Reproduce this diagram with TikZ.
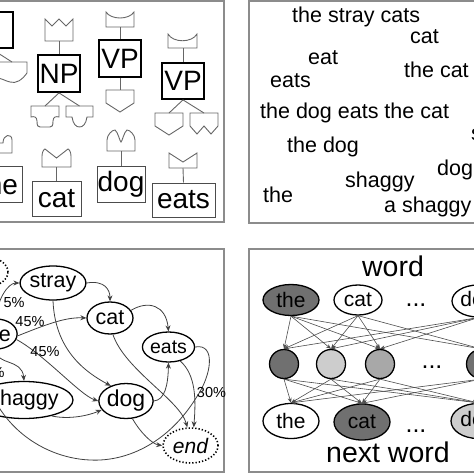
\documentclass[tikz,border=0pt]{standalone}
\usepackage{fontspec}
\setmainfont{Liberation Sans}
\usepackage{xcolor}
\usepackage{tikz}
\usetikzlibrary{arrows.meta,positioning,shapes,calc}

\definecolor{framegray}{HTML}{8C8C8C}
\definecolor{darkunit}{HTML}{707070}
\definecolor{midunit}{HTML}{A8A8A8}
\definecolor{lightunit}{HTML}{CDCDCD}

\tikzset{
  panel/.style={draw=framegray, line width=1.5pt},
  tagbox/.style={draw=black, line width=1.8pt, inner sep=0pt, font=\fontsize{28}{30}\selectfont},
  wordbox/.style={draw=black!70, line width=1pt, inner sep=0pt, font=\fontsize{28}{30}\selectfont},
  piece/.style={draw=black!60, line width=0.9pt},
  loose/.style={anchor=base west, inner sep=0pt, font=\fontsize{21.5}{23}\selectfont},
  state/.style={ellipse, draw=black, line width=1.3pt, inner sep=0pt, font=\fontsize{21.5}{23}\selectfont},
  endstate/.style={state, dotted, line width=1.6pt},
  trans/.style={draw=black!75, line width=0.8pt, -{Stealth[length=6pt,width=5pt]}},
  prob/.style={inner sep=0pt, font=\fontsize{14.5}{16}\selectfont},
  token/.style={ellipse, draw=black, line width=1.3pt, inner sep=0pt, font=\fontsize{21}{23}\selectfont},
  unit/.style={circle, draw=black, line width=1.3pt, minimum size=29pt, inner sep=0pt},
  link/.style={draw=black!70, line width=0.6pt, -{Stealth[length=5pt,width=4pt]}},
  dots/.style={anchor=base, inner sep=0pt, font=\fontsize{25}{27}\selectfont},
  caption/.style={anchor=base, inner sep=0pt, font=\fontsize{28.5}{30}\selectfont}
}

\begin{document}
\begin{tikzpicture}[x=1pt, y=-1pt]
\useasboundingbox (0,0) rectangle (474,474);

% Panel frames
\draw[panel] (-5,0.8) rectangle (224,222);
\draw[panel] (249,0.8) rectangle (480,223);
\draw[panel] (-5,249) rectangle (224,472);
\draw[panel] (249,249) rectangle (480,472);

% ---- Top left: construction pieces ----
\node[tagbox, minimum width=43pt, minimum height=36pt] (sbox) at (-8.5,30) {};
\coordinate (sdown) at (12,62);
\draw[piece] (sbox.south) -- (sdown);
\draw[piece] (-4,62) -- (27,62) -- (27,73) .. controls (22,80) and (16,84) .. (10,82) .. controls (5,81) and (2,78) .. (-4,78) -- cycle;

% NP
\node[tagbox, minimum width=42pt, minimum height=37pt] (np) at (59,73.5) {NP};
\coordinate (npup) at (59,41);
\coordinate (npleft) at (45,106);
\coordinate (npright) at (79.5,106);
\draw[piece] (45,41) -- (45,19) -- (52,26) -- (59,19) -- (66,26) -- (73,19) -- (73,41) -- cycle;
\draw[piece] (np.north) -- (npup);
\draw[piece] (np.south) -- (npleft);
\draw[piece] (np.south) -- (npright);
\draw[piece] (31,106) -- (59,106) -- (59,117) .. controls (56,116) and (53,117) .. (53,121) .. controls (53,126) and (52,127) .. (50,127) -- (40,127) .. controls (38,127) and (37,126) .. (37,121) .. controls (37,117) and (34,116) .. (31,117) -- cycle;
\draw[piece] (66,106) -- (93,106) -- (93,117) -- (87,117) .. controls (86,124) and (83,127) .. (79.5,127) .. controls (76,127) and (73,124) .. (72,117) -- (66,117) -- cycle;

% VP, one child
\node[tagbox, minimum width=42pt, minimum height=37pt] (vpa) at (120,58.5) {VP};
\coordinate (vpaup) at (120,27);
\coordinate (vpadown) at (120,90);
\draw[piece] (106,27) -- (106,12) .. controls (111,20) and (129,20) .. (134,12) -- (134,27) -- cycle;
\draw[piece] (vpa.north) -- (vpaup);
\draw[piece] (vpa.south) -- (vpadown);
\draw[piece] (106,90) -- (134,90) -- (134,103) -- (120,112) -- (106,103) -- cycle;

% VP, two children
\node[tagbox, minimum width=42pt, minimum height=36pt] (vpb) at (183,81) {VP};
\coordinate (vpbup) at (183,48);
\coordinate (vpbleft) at (169,113);
\coordinate (vpbright) at (204,113);
\draw[piece] (168,48) -- (168,34) .. controls (173,43) and (192,43) .. (197,34) -- (197,48) -- cycle;
\draw[piece] (vpb.north) -- (vpbup);
\draw[piece] (vpb.south) -- (vpbleft);
\draw[piece] (vpb.south) -- (vpbright);
\draw[piece] (155,113) -- (183,113) -- (183,126) -- (169,135) -- (155,126) -- cycle;
\draw[piece] (190,113) -- (218,113) -- (218,126) -- (211,134) -- (204,126) -- (197,134) -- (190,126) -- cycle;

% word boxes
\node[wordbox, minimum width=47pt, minimum height=36pt] (wthe) at (-1.5,184) {the};
\node[wordbox, minimum width=49pt, minimum height=35pt] (wcat) at (56.5,198.5) {cat};
\node[wordbox, minimum width=48pt, minimum height=36pt] (wdog) at (121,184) {dog};
\node[wordbox, minimum width=63pt, minimum height=34pt] (weats) at (183.5,200) {eats};
\coordinate (catplug) at (56.5,167);
\coordinate (dogplug) at (121,151);
\coordinate (eatsplug) at (183,168);
\draw[piece] (-16,153) -- (-16,143) -- (3,143) .. controls (3,134) and (12,133) .. (12,140) -- (12,153) -- cycle;
\draw[piece] (42,167) -- (42,156) .. controls (42,152) and (44,149) .. (45,149) -- (56.5,158) -- (68,149) .. controls (69,149) and (71,152) .. (71,156) -- (71,167) -- cycle;
\draw[piece] (107,151) -- (107,140) .. controls (107,135) and (112,130) .. (115,130) .. controls (118,132) and (120,142) .. (121,142) .. controls (122,142) and (124,132) .. (127,130) .. controls (130,130) and (135,135) .. (135,140) -- (135,151) -- cycle;
\draw[piece] (169,168) -- (169,153) -- (183,162) -- (197,153) -- (197,168) -- cycle;
\draw[piece] (wcat.north) -- (catplug);
\draw[piece] (wdog.north) -- (dogplug);
\draw[piece] (weats.north) -- (eatsplug);

% ---- Top right: loose phrases ----
\node[loose] (ph1) at (292,22) {the stray cats};
\node[loose] (ph2) at (410,43) {cat};
\node[loose] (ph3) at (308,64) {eat};
\node[loose] (ph4) at (270,87) {eats};
\node[loose] (ph5) at (404,77) {the cat};
\node[loose] (ph6) at (260,118) {the dog eats the cat};
\node[loose] (ph7) at (471,140) {stray};
\node[loose] (ph8) at (287,152) {the dog};
\node[loose] (ph9) at (437,175) {dog};
\node[loose] (ph10) at (345,187) {shaggy};
\node[loose] (ph11) at (263,202) {the};
\node[loose] (ph12) at (384,212) {a shaggy};

% ---- Bottom left: word chain ----
\node[endstate, minimum width=44pt, minimum height=30pt] (start) at (-14,272) {};
\node[state, minimum width=60pt, minimum height=34pt] (stray) at (53,283) {stray};
\node[state, minimum width=46pt, minimum height=32pt] (cat) at (110,318) {cat};
\node[state, minimum width=42pt, minimum height=30pt] (the) at (-4,334) {the};
\node[state, minimum width=47pt, minimum height=30pt, font=\fontsize{19.5}{21}\selectfont] (eats) at (168.5,347) {eats};
\node[state, minimum width=78pt, minimum height=37pt] (shaggy) at (24,400) {shaggy};
\node[state, minimum width=47pt, minimum height=35pt, font=\fontsize{23}{25}\selectfont] (dog) at (126,401) {dog};
\node[endstate, minimum width=55pt, minimum height=35pt, font=\fontsize{21}{23}\selectfont\itshape] (end) at (190.5,445.5) {end};

\draw[trans] (the.north) .. controls (-3,300) and (8,283) .. (stray.west);
\draw[trans] (the.-5) .. controls (45,325) and (65,317) .. (cat.west);
\draw[trans] (the.-15) .. controls (45,355) and (80,395) .. (dog.west);
\draw[trans] (the.south) .. controls (-4,366) and (22,358) .. (shaggy.north);
\draw[trans] (stray.east) .. controls (105,280) and (110,290) .. (cat.north);
\draw[trans] (stray.south) .. controls (55,350) and (85,372) .. (dog.135);
\draw[trans] (cat.20) .. controls (148,300) and (166,305) .. (eats.north);
\draw[trans] (cat.-80) .. controls (125,370) and (180,400) .. (end.100);
\draw[trans] (dog.east) .. controls (165,400) and (168,385) .. (eats.south);
\draw[trans] (dog.-70) .. controls (140,432) and (152,444) .. (end.west);
\draw[trans] (shaggy.-30) .. controls (70,420) and (90,415) .. (dog.200);
\draw[trans] (eats.-50) .. controls (196,375) and (196,400) .. (end.80);
\draw[trans] (eats.east) .. controls (216,343) and (212,375) .. (196,398) .. controls (170,440) and (130,462) .. (90,460) .. controls (40,458) and (-15,420) .. (the.south west);

\node[prob] (p1) at (14,303) {5\%};
\node[prob] (p2) at (30,322) {45\%};
\node[prob] (p3) at (45,351.5) {45\%};
\node[prob] (p4) at (-6,373) {5\%};
\node[prob] (p5) at (211.5,393) {30\%};

% ---- Bottom right: network ----
\node[caption] (inword) at (393,276) {word};
\node[token, fill=darkunit, minimum width=56pt, minimum height=31pt] (t1) at (291,300) {the};
\node[token, fill=white, minimum width=48pt, minimum height=30pt] (t2) at (358,300) {cat};
\node[dots] (tdots) at (416,306) {...};
\node[token, fill=white, minimum width=52pt, minimum height=32pt] (t4) at (478,301) {dog};

\node[unit, fill=darkunit] (m1) at (284,364) {};
\node[unit, fill=lightunit] (m2) at (331,364) {};
\node[unit, fill=midunit] (m3) at (380,364) {};
\node[dots] (mdots) at (432,368) {...};
\node[unit, fill=darkunit] (m4) at (481,364) {};

\node[token, fill=white, minimum width=56pt, minimum height=35pt] (b1) at (291,421) {the};
\node[token, fill=darkunit, minimum width=56pt, minimum height=36pt] (b2) at (362,422) {cat};
\node[dots] (bdots) at (416,432) {...};
\node[token, fill=lightunit, minimum width=54pt, minimum height=35pt] (b4) at (478,421) {dog};
\node[caption] (outword) at (388,462) {next word};

\foreach \a in {t1,t2,t4}
  \foreach \b in {m1,m2,m3,m4}
    \draw[link] (\a.south) -- (\b.north);
\foreach \a in {m1,m2,m3,m4}
  \foreach \b in {b1,b2,b4}
    \draw[link] (\a.south) -- (\b.north);

\end{tikzpicture}
\end{document}
